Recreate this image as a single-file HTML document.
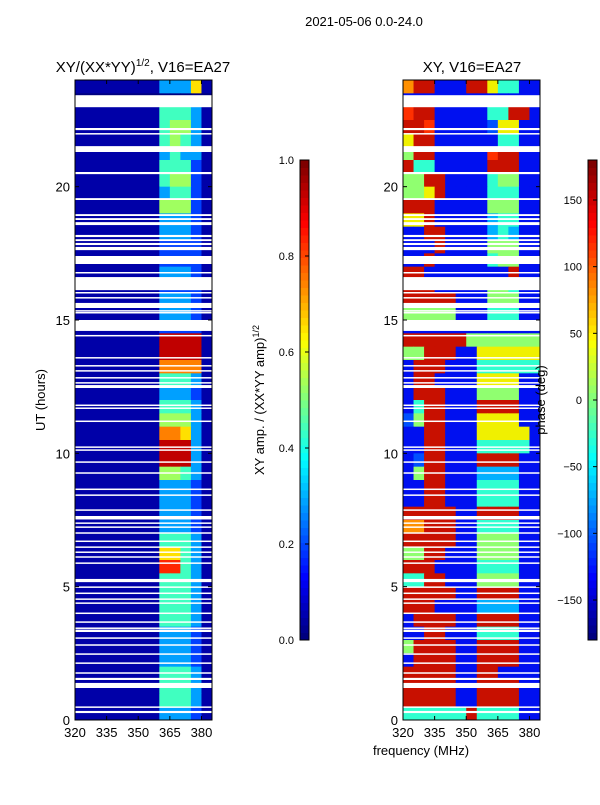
<!DOCTYPE html>
<html><head><meta charset="utf-8"><style>
body{margin:0;background:#fff;width:600px;height:800px;overflow:hidden}
svg text{font-family:"Liberation Sans",sans-serif}
</style></head><body>
<svg id="fig" width="600" height="800" xmlns="http://www.w3.org/2000/svg">
<text x="364" y="26" font-size="13" text-anchor="middle">2021-05-06 0.0-24.0</text>
<text x="143" y="72" font-size="15" text-anchor="middle">XY/(XX*YY)<tspan dy="-6" font-size="10">1/2</tspan><tspan dy="6">, V16=EA27</tspan></text>
<text x="472" y="72" font-size="15" text-anchor="middle">XY, V16=EA27</text>
<text x="45" y="400" font-size="13" text-anchor="middle" transform="rotate(-90 45 400)">UT (hours)</text>
<text x="421" y="755" font-size="13" text-anchor="middle">frequency (MHz)</text>
<text x="264" y="400" font-size="13" text-anchor="middle" transform="rotate(-90 264 400)">XY amp. / (XX*YY amp)<tspan dy="-5" font-size="9">1/2</tspan></text>
<g id="left"></g>
<g id="right"></g>
<g id="axes"></g>
<text x="545" y="400" font-size="13" text-anchor="middle" transform="rotate(-90 545 400)">phase (deg)</text>
</svg>
<script>
const freqEdges=[320,325,330,335,340,345,350,355,360,365,370,375,380,385];
const timeRowStart=24, timeRowStep=0.5;
const ampRows=["1111111133361","0000000000000","1111111144431","1111111145531","1111111145431","1111111134331","1111111144421","1111111145521","1111111134421","1111111155521","1111111133321","1111111133321","1111111122221","1111111122221","1111111133321","1111111122221","1111111133321","1111111133321","1111111122221","1111111199991","1111111199991","1111111177771","1111111144431","1111111133321","1111111144431","1111111155531","1111111177631","1111111199931","1111111199931","1111111155431","1111111133321","1111111133321","1111111133321","1111111133321","1111111144431","1111111166431","1111111188431","1111111144431","1111111144431","1111111144431","1111111144431","1111111133321","1111111133321","1111111133321","1111111144431","1111111144431","1111111144431","1111111133321"];
const phaseRows=["7991119964411","1111111111111","8991111144991","9981111126611","6991111114411","5991111189911","9441111199911","5599111145511","5569111144411","9991111155511","6691111134411","1199111134311","1119111155511","1191111145511","9911111111911","9991111155411","9999911155511","5555511144411","1111111111111","9999995555555","5599911666666","1999111444444","1991111666611","1999111555511","1499111999911","2599111666611","1199111666661","1199111444441","1299111999911","1599111333311","1199111444411","1199111444411","9999911999911","7799911444411","9999911555511","5599111555511","9991111444411","4499111555511","9999911999911","9991111333311","1999911999911","1199111444411","5999911999911","1999911999911","9999911991111","9999911999911","9999911999911","4444449444411"];
const flaggedGaps=[[22.98,23.43],[22.12,22.2],[21.97,22.01],[21.3,21.52],[20.47,20.55],[19.5,19.57],[18.9,18.97],[18.75,18.82],[18.56,18.67],[18.11,18.19],[17.96,18.03],[17.81,17.89],[17.62,17.74],[17.1,17.4],[16.76,16.8],[16.12,16.61],[16.01,16.05],[15.82,15.86],[15.45,15.64],[15.34,15.37],[15.26,15.3],[14.59,15.0],[14.4,14.44],[13.57,13.61],[13.27,13.31],[13.09,13.12],[12.82,12.86],[12.64,12.67],[12.45,12.56],[11.79,11.83],[11.68,11.72],[11.19,11.23],[10.22,10.26],[10.11,10.15],[9.66,9.7],[9.25,9.29],[8.64,8.68],[8.42,8.46],[7.86,7.9],[7.52,7.65],[7.37,7.41],[7.22,7.26],[7.0,7.04],[6.69,6.73],[6.47,6.51],[6.28,6.32],[6.1,6.14],[5.87,5.91],[5.17,5.29],[4.97,5.01],[4.74,4.78],[4.52,4.56],[4.37,4.41],[3.99,4.03],[3.66,3.7],[3.43,3.47],[3.3,3.39],[3.06,3.1],[2.8,2.84],[2.46,2.5],[2.12,2.16],[1.75,1.79],[1.5,1.58],[1.2,1.39],[0.47,0.51],[0.26,0.34]];
const xTicks=[320,335,350,365,380];
const yTicks=[0,5,10,15,20];
const ampTicks=[0.0,0.2,0.4,0.6,0.8,1.0];
const phaseTicks=[-150,-100,-50,0,50,100,150];
const ampPal=['#00007f','#0000a8','#0040ff','#00a0ff','#40ffc0','#a0ff60','#ffe000','#ff8000','#ff2800','#c00000'];
const phasePal=['#00007f','#0010f0','#0050ff','#00b0ff','#30ffd0','#90ff70','#f0f000','#ff9000','#ff3000','#c81000'];
const NS='http://www.w3.org/2000/svg';
const Y0=80,Y1=720;
function y(t){return Y1-(t/24)*(Y1-Y0);}
function mk(tag,a,p){const e=document.createElementNS(NS,tag);for(const k in a)e.setAttribute(k,a[k]);p.appendChild(e);return e;}
function panel(gid,x0,x1,rows,pal,name){
  const g=document.getElementById(gid);
  const x=f=>x0+(f-320)/(385-320)*(x1-x0);
  rows.forEach((row,r)=>{
    const t0=timeRowStart-r*timeRowStep, t1=t0-timeRowStep;
    for(let c=0;c<row.length;c++){
      const e=mk('rect',{x:x(freqEdges[c]),y:y(t0),width:x(freqEdges[c+1])-x(freqEdges[c])+0.5,height:y(t1)-y(t0)+0.5,fill:pal[+row[c]]},g);
      
      
    }
  });
  flaggedGaps.forEach(gp=>{
    const h=Math.max(1.5,y(gp[0])-y(gp[1]));
    const e=mk('rect',{x:x0,y:y(gp[1]),width:x1-x0,height:h,fill:'#fff'},g);
    
    
  });
  const ax=document.getElementById('axes');
  const fr=mk('rect',{x:x0,y:Y0,width:x1-x0,height:Y1-Y0,fill:'none',stroke:'#000','stroke-width':1},ax);
  
  
  xTicks.forEach(v=>{
    mk('line',{x1:x(v),x2:x(v),y1:Y1,y2:Y1-4,stroke:'#000'},ax);
    mk('line',{x1:x(v),x2:x(v),y1:Y0,y2:Y0+4,stroke:'#000'},ax);
    const t=mk('text',{x:x(v),y:Y1+17,'font-size':13,'text-anchor':'middle'},ax);t.textContent=v;
    
    
  });
  yTicks.forEach(v=>{
    mk('line',{x1:x0,x2:x0+4,y1:y(v),y2:y(v),stroke:'#000'},ax);
    mk('line',{x1:x1,x2:x1-4,y1:y(v),y2:y(v),stroke:'#000'},ax);
    const t=mk('text',{x:x0-5,y:y(v)+5,'font-size':13,'text-anchor':'end'},ax);t.textContent=v;
    
    
  });
}
panel('left',75,212,ampRows,ampPal,'amp');
panel('right',403,540,phaseRows,phasePal,'phase');
function cbar(x0,vmin,vmax,ticks,name){
  const ax=document.getElementById('axes');
  const B0=160,B1=640,n=64;
  for(let i=0;i<n;i++){
    const v=i/(n-1);
    const r=Math.min(1,Math.max(0,1.5-Math.abs(4*v-3))),gg=Math.min(1,Math.max(0,1.5-Math.abs(4*v-2))),b=Math.min(1,Math.max(0,1.5-Math.abs(4*v-1)));
    const e=mk('rect',{x:x0,y:B1-(i+1)*(B1-B0)/n,width:9,height:(B1-B0)/n+0.5,fill:`rgb(${r*255|0},${gg*255|0},${b*255|0})`},ax);
    
    
  }
  mk('rect',{x:x0,y:B0,width:9,height:B1-B0,fill:'none',stroke:'#000'},ax);
  ticks.forEach(v=>{
    const yy=B1-(v-vmin)/(vmax-vmin)*(B1-B0);
    mk('line',{x1:x0+9,x2:x0+5,y1:yy,y2:yy,stroke:'#000'},ax);
    const t=mk('text',{x:x0-6,y:yy+4,'font-size':11,'text-anchor':'end'},ax);
    t.textContent=name==='amp-colorbar'?v.toFixed(1):(v<0?'\u2212'+(-v):v);
    
    
  });
}
cbar(300,0,1,ampTicks,'amp-colorbar');
cbar(588,-180,180,phaseTicks,'phase-colorbar');
</script>
</body></html>
